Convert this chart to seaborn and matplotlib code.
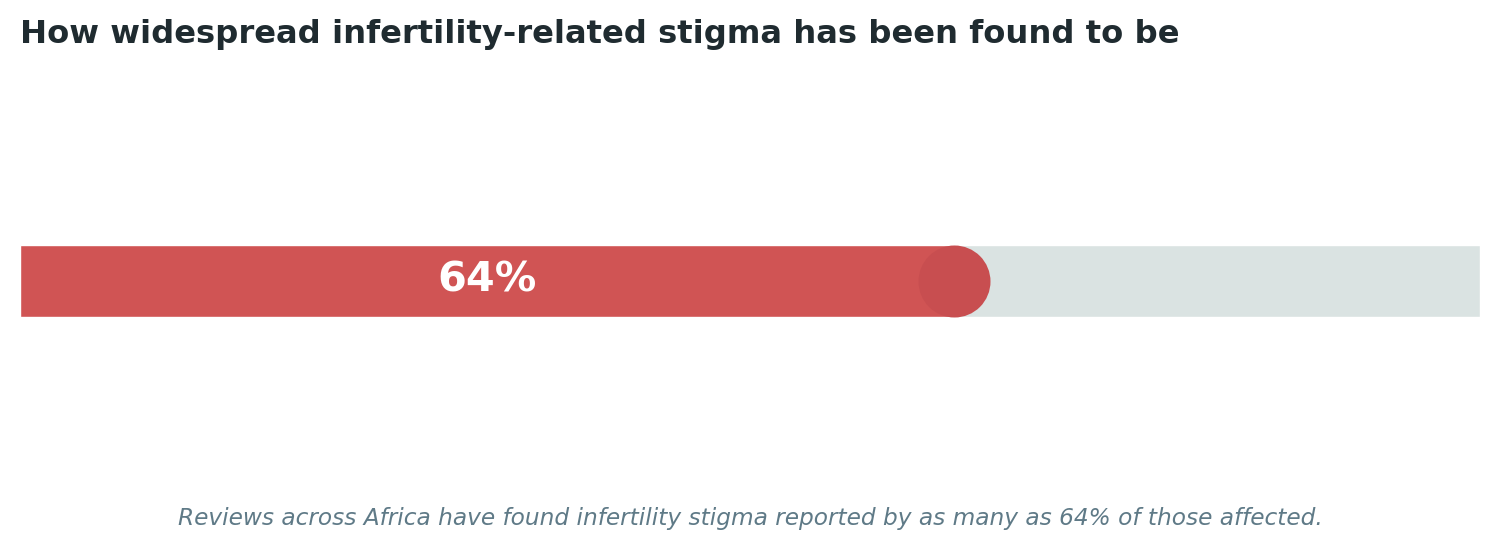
import matplotlib
matplotlib.use("Agg")
import matplotlib.pyplot as plt
import seaborn as sns
import pandas as pd

TITLE = "How widespread infertility-related stigma has been found to be"
NOTE = "Reviews across Africa have found infertility stigma reported by as many as 64% of those affected."
labels = ["stigma"]
share = [64]
total = [100]

RED = "#D05454"
DOT = "#C84E50"
GREY = "#DAE3E2"

sns.set_theme(style="white")
plt.rcParams['font.family'] = ['DejaVu Sans']

fig = plt.figure(figsize=(15, 5.5), dpi=100)
ax = fig.add_axes([20 / 1500, (550 - 317) / 550, 1460 / 1500, 72.5 / 550])

df = pd.DataFrame({"label": labels, "share": share, "total": total})
sns.barplot(data=df, x="total", y="label", orient="h", color=GREY,
            width=1.0, saturation=1, ax=ax)
sns.barplot(data=df, x="share", y="label", orient="h", color=RED,
            width=1.0, saturation=1, ax=ax)
# round end cap on the filled part
ax.scatter(df["share"], [0], s=(72 * 0.72) ** 2, color=DOT, zorder=5,
           clip_on=False, linewidths=0)
ax.text(df["share"][0] / 2, 0, f"{share[0]}%", color="white",
        fontsize=29.8, fontweight="bold", ha="center", va="center", zorder=6)

ax.set_xlim(0, 100)
ax.set_ylim(0.5, -0.5)
ax.axis("off")

fig.text(20 / 1500, 1 - 35 / 550, TITLE, fontsize=23.2, fontweight="bold",
         color="#1F2B30", ha="left", va="center")
fig.text(0.5, 1 - 519 / 550, NOTE, fontsize=16.75, style="italic",
         color="#5F7A87", ha="center", va="center")

fig.savefig("out.png", dpi=100)
